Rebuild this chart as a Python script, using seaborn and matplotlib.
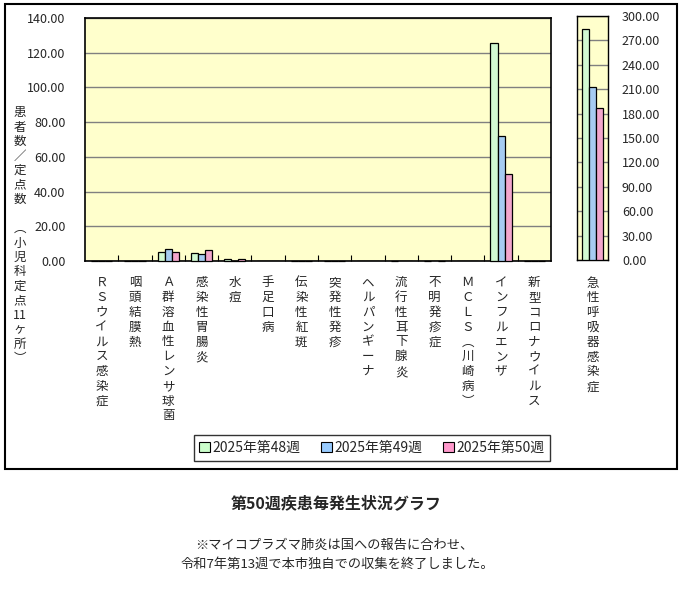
import matplotlib
matplotlib.use("Agg")
import matplotlib.pyplot as plt
import matplotlib.patches as mpatches
from matplotlib.ticker import FixedLocator
import seaborn as sns
import pandas as pd

# ---------------- data ----------------
categories = ["ＲＳウイルス感染症", "咽頭結膜熱", "Ａ群溶血性レンサ球菌", "感染性胃腸炎", "水痘",
              "手足口病", "伝染性紅斑", "突発性発疹", "ヘルパンギーナ", "流行性耳下腺炎",
              "不明発疹症", "ＭＣＬＳ︵川崎病︶", "インフルエンザ", "新型コロナウイルス"]
weeks = ["2025年第48週", "2025年第49週", "2025年第50週"]
w48 = [0.27, 0.18, 5.27, 4.73, 0.91, 0.00, 0.18, 0.27, 0.00, 0.09, 0.09, 0.00, 125.64, 0.27]
w49 = [0.18, 0.27, 7.09, 3.91, 0.27, 0.00, 0.18, 0.27, 0.00, 0.00, 0.00, 0.00, 72.09, 0.27]
w50 = [0.18, 0.18, 5.27, 6.45, 0.91, 0.00, 0.09, 0.18, 0.00, 0.00, 0.09, 0.00, 50.36, 0.27]

ari_category = ["急性呼吸器感染症"]
ari48 = [284.0]
ari49 = [213.0]
ari50 = [187.0]

colors = ["#CCFFCC", "#99CCFF", "#FF99CC"]
main_ticks = [0, 20, 40, 60, 80, 100, 120, 140]
ari_ticks = [0, 30, 60, 90, 120, 150, 180, 210, 240, 270, 300]
ylabel_text = "患\n者\n数\n／\n定\n点\n数\n\n︵\n小\n児\n科\n定\n点\n11\nヶ\n所\n︶"
title_text = "第50週疾患毎発生状況グラフ"
note_lines = ["※マイコプラズマ肺炎は国への報告に合わせ、", "令和7年第13週で本市独自での収集を終了しました。"]

# ---------------- style ----------------
sns.set_style("white")
FONT = ["Noto Sans CJK JP", "DejaVu Sans"]
plt.rcParams["font.family"] = FONT

W, H = 680, 609
fig = plt.figure(figsize=(W / 100, H / 100), dpi=100)
fig.patch.set_facecolor("white")

def px_axes(l, t, r, b):
    return fig.add_axes([l / W, (H - b) / H, (r - l) / W, (b - t) / H])

def vert(s):
    return "\n".join(list(s))

df = pd.DataFrame({
    "cat": categories * 3,
    "week": [weeks[0]] * 14 + [weeks[1]] * 14 + [weeks[2]] * 14,
    "val": w48 + w49 + w50,
})
df2 = pd.DataFrame({
    "cat": ari_category * 3,
    "week": weeks,
    "val": ari48 + ari49 + ari50,
})

BG = "#FFFFCC"
GRID = "#808080"

# ---------------- main axes ----------------
ax = px_axes(85, 18, 551, 261)
ax.set_facecolor(BG)
sns.barplot(data=df, x="cat", y="val", hue="week", palette=colors, order=categories,
            hue_order=weeks, width=0.64, edgecolor="black", linewidth=0.9,
            legend=False, ax=ax, zorder=3)
for p in ax.patches:
    if p.get_height() > 0:
        p.set_clip_on(False)
ax.set_ylim(0, 140)
ax.set_xlim(-0.5, 13.5)
ax.set_yticks(main_ticks)
ax.set_yticklabels([f"{v:.2f}" for v in main_ticks], fontsize=9)
ax.yaxis.grid(True, color=GRID, linewidth=1.0, zorder=0)
ax.set_axisbelow(True)
ax.set_xticks(range(len(categories)))
ax.set_xticklabels([vert(c) for c in categories], fontsize=9, va="top", linespacing=1.18)
ax.tick_params(axis="x", which="major", length=0, pad=11)
ax.xaxis.set_minor_locator(FixedLocator([i + 0.5 for i in range(13)]))
ax.tick_params(axis="x", which="minor", direction="in", length=4, width=0.8, color="black", bottom=True)
ax.tick_params(axis="y", length=0, pad=14)
ax.set_xlabel("")
ax.set_ylabel("")
for s in ax.spines.values():
    s.set_color("black")
    s.set_linewidth(1.2)
    s.set_zorder(2)

# ---------------- right axes ----------------
ax2 = px_axes(577, 16, 608, 260)
ax2.set_facecolor(BG)
sns.barplot(data=df2, x="cat", y="val", hue="week", palette=colors, order=ari_category,
            hue_order=weeks, width=0.68, edgecolor="black", linewidth=0.9,
            legend=False, ax=ax2, zorder=3)
ax2.set_ylim(0, 300)
ax2.set_xlim(-0.5, 0.5)
ax2.yaxis.tick_right()
ax2.set_yticks(ari_ticks)
ax2.set_yticklabels([f"{v:.2f}" for v in ari_ticks], fontsize=9)
ax2.yaxis.grid(True, color=GRID, linewidth=1.0, zorder=0)
ax2.set_axisbelow(True)
ax2.tick_params(axis="y", length=0, pad=10)
ax2.set_xticks([0])
ax2.set_xticklabels([vert(ari_category[0])], fontsize=9, va="top", linespacing=1.18)
ax2.tick_params(axis="x", length=0, pad=12)
ax2.set_xlabel("")
ax2.set_ylabel("")
for s in ax2.spines.values():
    s.set_color("black")
    s.set_linewidth(1.0)

# ---------------- y label ----------------
fig.text(20 / W, (H - 106) / H, ylabel_text, fontsize=9, va="top", ha="center",
         linespacing=1.15, family=FONT)

# ---------------- legend ----------------
handles = [mpatches.Patch(facecolor=c, edgecolor="black", linewidth=0.8) for c in colors]
leg = fig.legend(handles, weeks, loc="center", bbox_to_anchor=(372 / W, (H - 448) / H),
                 ncol=3, fontsize=10, frameon=True, fancybox=False, handlelength=0.75,
                 handleheight=0.75, handletextpad=0.2, columnspacing=1.5,
                 borderpad=0.4, borderaxespad=0)
leg.get_frame().set_edgecolor("black")
leg.get_frame().set_linewidth(1.0)

# ---------------- outer border ----------------
border = mpatches.Rectangle((4.5 / W, (H - 468.5) / H), (677 - 4.5) / W, (468.5 - 4) / H,
                            transform=fig.transFigure, fill=False, edgecolor="black",
                            linewidth=1.5, zorder=10)
fig.patches.append(border)

# ---------------- title & notes ----------------
fig.text(336 / W, (H - 503) / H, title_text, fontsize=11.5, fontweight="bold",
         ha="center", va="center")
fig.text(334 / W, (H - 545) / H, note_lines[0], fontsize=9.5, ha="center", va="center")
fig.text(337 / W, (H - 564) / H, note_lines[1], fontsize=9.5, ha="center", va="center")

fig.savefig("out.png", dpi=100, facecolor="white")
